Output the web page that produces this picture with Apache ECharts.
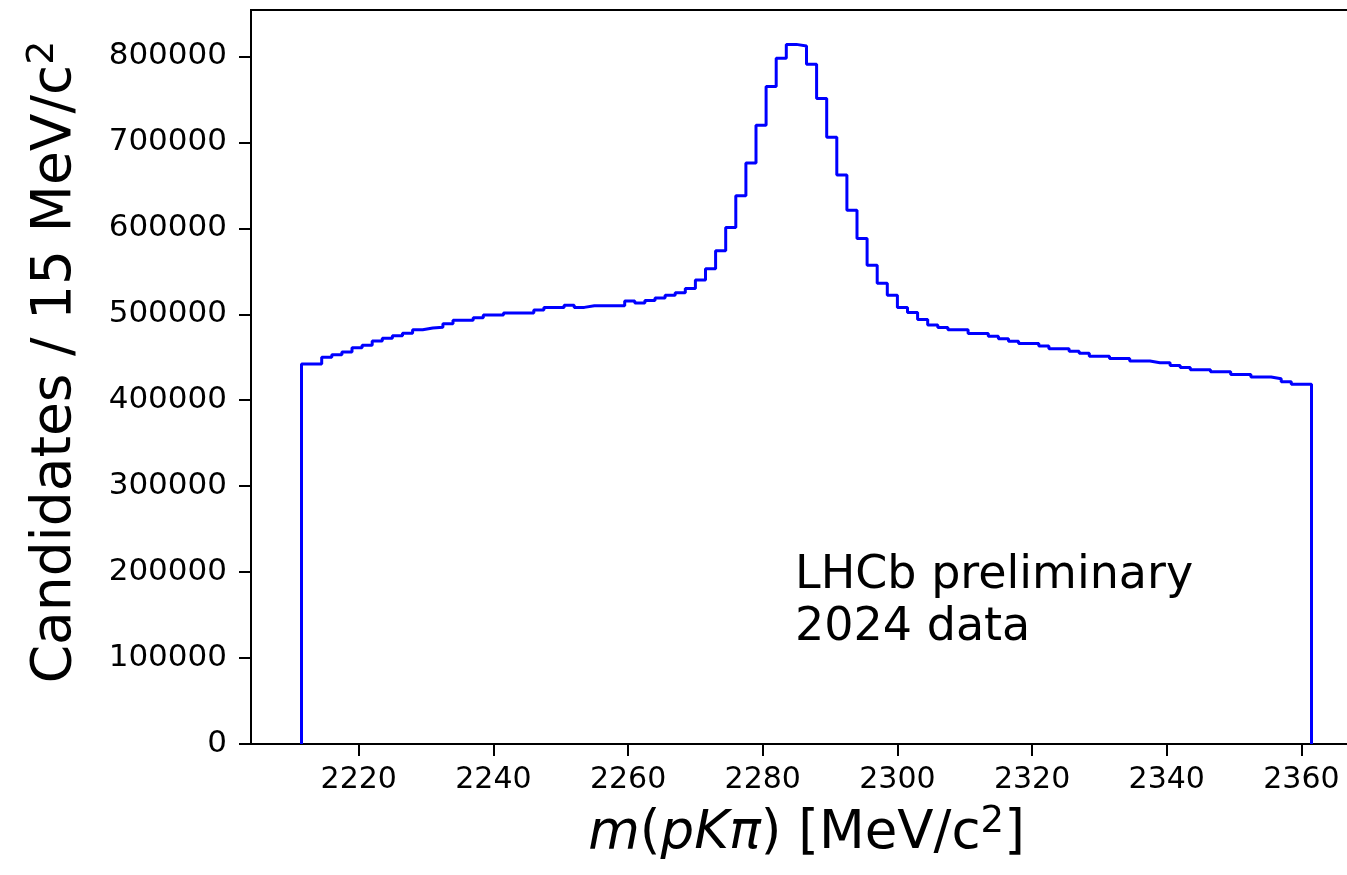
<!DOCTYPE html>
<html lang="en">
<head>
  <meta charset="UTF-8">
  <title>LHCb m(pKpi)</title>
  <script src="https://cdn.jsdelivr.net/npm/echarts@6/dist/echarts.min.js"></script>
  <style>
    * {
      margin: 0;
      padding: 0;
    }
    body {
      overflow: hidden;
    }
    /* a bit wider than the window: the right spine sits off-screen like in the original */
    #main {
      width: 1372px;
      height: 875px;
      background: #fff;
    }
  </style>
</head>
<body>
  <div id="main"></div>
  <script>
    // histogram binning (MeV/c^2)
    var binStart = 2211.5;
    var binWidth = 1.5;
    // candidates per bin
    var counts = [
      442000, 442000, 450000, 453000, 456000, 461000, 464000, 469000, 472000, 475000,
      478000, 482000, 484000, 485000, 489000, 493000, 493000, 496000, 499000, 499000,
      501500, 501500, 501500, 505000, 508000, 508000, 510500, 508000, 510000, 510000,
      510000, 510000, 515500, 513000, 516000, 519000, 522000, 525000, 530000, 540000,
      553000, 574000, 601000, 638000, 676000, 720000, 765000, 798000, 814000, 812000,
      791000, 751000, 706000, 662000, 621000, 588000, 557000, 536000, 522000, 508000,
      502000, 494000, 487500, 484500, 482000, 482000, 477500, 477500, 474500, 471500,
      468500, 466000, 466000, 463000, 460000, 460000, 457000, 454500, 451000, 451000,
      448500, 448500, 445500, 445500, 443500, 443500, 440500, 438000, 435500, 435500,
      433000, 433000, 430000, 430000, 427000, 427000, 425000, 421500, 418500, 418500
    ];
    var xTicks = [2220, 2240, 2260, 2280, 2300, 2320, 2340, 2360];
    var yTicks = [0, 100000, 200000, 300000, 400000, 500000, 600000, 700000, 800000];

    // step outline like matplotlib histtype='step'
    var steps = [[binStart, 0]];
    counts.forEach(function (c, i) {
      steps.push([binStart + (i + 1) * binWidth, c]);
    });
    steps.push([binStart + counts.length * binWidth, 0]);

    var font = 'DejaVu Sans';
    var myChart = echarts.init(document.getElementById('main'));
    var option = {
      animation: false,
      backgroundColor: '#fff',
      grid: {
        left: 251,
        top: 10,
        width: 1111,
        height: 734,
        show: true,
        borderColor: '#000',
        borderWidth: 2,
        containLabel: false,
        outerBoundsMode: 'none'
      },
      xAxis: {
        type: 'value',
        min: 2204,
        max: 2369,
        splitLine: { show: false },
        axisLine: { onZero: false, lineStyle: { color: '#000', width: 2 } },
        axisTick: { customValues: xTicks, length: 12, lineStyle: { color: '#000', width: 2 } },
        axisLabel: {
          customValues: xTicks,
          color: '#000',
          fontFamily: font,
          fontSize: 30,
          margin: 21,
          formatter: function (v) { return String(v); }
        },
        name: '{it|m}({it|pKπ}) [MeV/c{sup|2}]',
        nameLocation: 'middle',
        nameGap: 60,
        nameTextStyle: {
          color: '#000',
          fontFamily: font,
          fontSize: 53,
          verticalAlign: 'top',
          rich: {
            it: { fontFamily: font, fontSize: 53, fontStyle: 'italic', color: '#000' },
            sup: { fontFamily: font, fontSize: 37, color: '#000', verticalAlign: 'top', padding: [0, 0, 24, 0] }
          }
        }
      },
      yAxis: {
        type: 'value',
        min: 0,
        max: 854000,
        splitLine: { show: false },
        axisLine: { show: true, lineStyle: { color: '#000', width: 2 } },
        axisTick: { show: true, customValues: yTicks, length: 12, lineStyle: { color: '#000', width: 2 } },
        axisLabel: {
          customValues: yTicks,
          color: '#000',
          fontFamily: font,
          fontSize: 31,
          margin: 24,
          formatter: function (v) { return String(v); }
        },
        name: 'Candidates / 15 MeV/c{sup|2}',
        nameLocation: 'middle',
        nameRotate: 90,
        nameGap: 163,
        nameTextStyle: {
          color: '#000',
          fontFamily: font,
          fontSize: 55,
          padding: [0, 0, 0, 30],
          rich: {
            sup: { fontFamily: font, fontSize: 38, color: '#000', verticalAlign: 'top', padding: [0, 0, 26, 0] }
          }
        }
      },
      graphic: [{
        type: 'text',
        left: 795,
        top: 550,
        style: {
          text: 'LHCb preliminary\n2024 data',
          font: '46px "DejaVu Sans"',
          lineHeight: 52,
          fill: '#000'
        }
      }],
      series: [{
        type: 'line',
        step: 'start',
        data: steps,
        showSymbol: false,
        symbol: 'none',
        lineStyle: { color: '#0000ff', width: 3 }
      }]
    };
    myChart.setOption(option);
  </script>
</body>
</html>
